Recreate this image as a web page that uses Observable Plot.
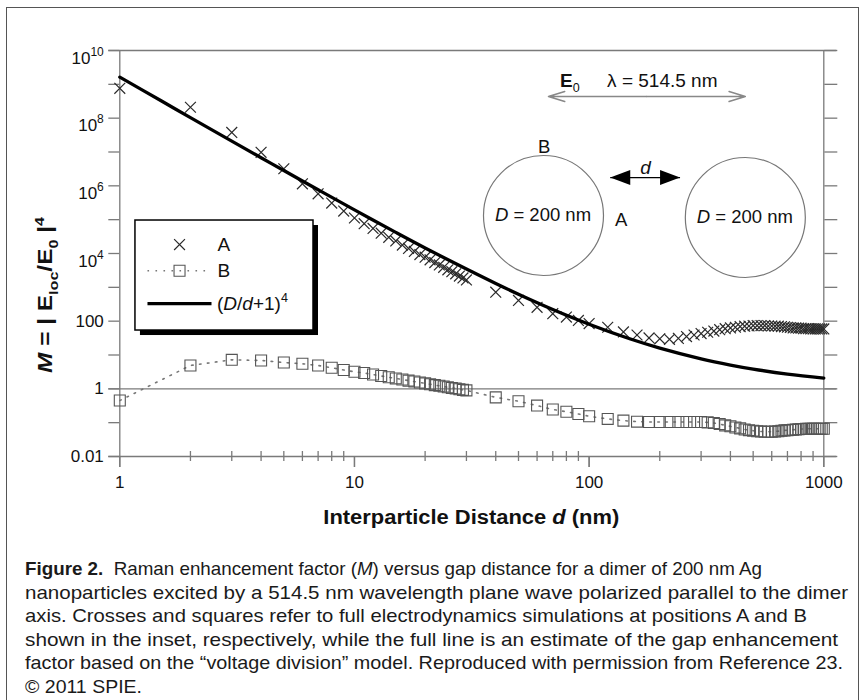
<!DOCTYPE html>
<html><head><meta charset="utf-8">
<script src="https://cdn.jsdelivr.net/npm/d3@7"></script>
<script src="https://cdn.jsdelivr.net/npm/@observablehq/plot@0.6"></script>
<style>
html,body{margin:0;padding:0;background:#fff;}
#wrap{position:relative;width:866px;height:700px;overflow:hidden;background:#fff;}
#frame{position:absolute;left:6px;top:7px;width:853px;height:700px;border:1.5px solid #555;box-sizing:border-box;pointer-events:none;}
#wrap svg text{white-space:pre;}
</style></head><body><div id="wrap"><div id="frame"></div></div>
<script>
const FONT = "'Liberation Sans', Arial, Helvetica, sans-serif";

// ---- data ----
const dPts = [1,2,3,4,5,6,7,8,9,10,11,12,13,14,15,16,17,18,19,20,21,22,23,24,25,26,27,28,29,30,
  40,50,60,70,80,90,100,120,140,160,180,200,220,240,260,280,300,320,340,360,380,400,420,440,460,480,500,
  520,540,560,580,600,620,640,660,680,700,720,740,760,780,800,820,840,860,880,900,920,940,960,980,1000];
const mA = [7.6e8,2.1e8,3.8e7,9.8e6,3.2e6,1.15e6,5.8e5,3.1e5,1.8e5,1.12e5,7.6e4,5.5e4,4.0e4,3.0e4,2.35e4,
  1.78e4,1.41e4,1.15e4,9.3e3,7.8e3,6.5e3,5.4e3,4.6e3,3.9e3,3.3e3,2.9e3,2.5e3,2.15e3,1.9e3,1.66e3,
  720,410,257,166,132,105,85,
  66,48,39,32,30,29,31,35,39,43,47,51,56,60,63,66,69,71,72,74,74,74,74,72,72,71,71,69,68,66,65,63,63,62,62,60,60,60,59,59,59,59,59,59,59];
const mB = [0.45,4.9,7.2,6.9,6.0,5.5,4.9,4.2,3.6,3.2,2.93,2.64,2.40,2.20,2.03,1.88,1.75,1.64,1.54,1.45,
  1.37,1.29,1.23,1.17,1.11,1.06,1.02,0.97,0.93,0.90,
  0.56,0.43,0.32,0.245,0.21,0.18,0.155,
  0.129,0.115,0.107,0.105,0.105,0.105,0.105,0.105,0.105,0.105,0.102,0.098,0.091,0.083,0.078,
  0.072,0.068,0.063,0.060,0.058,0.056,0.055,0.054,0.054,0.054,0.055,0.056,0.058,0.059,0.060,
  0.061,0.062,0.063,0.064,0.065,0.065,0.066,0.066,0.066,0.066,0.066,0.066,0.066,0.066,0.066];
const dLine = [1,1.5,2,3,4,5,7,10,15,20,30,40,50,70,100,150,200,300,400,500,700,1000];
const mLine = [1.63e9,3.26e8,1.04e8,2.10e7,6.77e6,2.83e6,7.65e5,1.94e5,4.22e4,1.46e4,3.46e3,1.30e3,625,221,81,29.6,16,7.72,5.06,3.84,2.73,2.07];

// axes
const xMajor = [1,10,100,1000];
const xMajorLabels = ["1","10","100","1000"];
const xMinor = [2,3,4,5,6,7,8,9,20,30,40,50,60,70,80,90,200,300,400,500,600,700,800,900];
const yDecades = [0.01,0.1,1,10,100,1e3,1e4,1e5,1e6,1e7,1e8,1e9,1e10];
const yLabelVals = [0.01,1,100,1e4,1e6,1e8,1e10];
const yTickLabels = ["0.01","1","100","10^4","10^6","10^8","10^10"];
const yFullLines = [0.01,1,1e10];

// inset annotations (data coordinates)
const circles = [{x: 63.9, y: 1.33e5}, {x: 463, y: 1.16e5}];
const circleText = ["D", " = 200 nm"];
const pointLabels = [{x: 64.4, y: 1.36e7, text: "B"}, {x: 137, y: 1.0e5, text: "A"}];
const eArrows = [{x1: 175, x2: 67.1, y: 4.37e8}, {x1: 175, x2: 463, y: 4.37e8}];
const eLabel = {x: 75.5, y: 1.3e9};
const lambdaLabel = {x: 205, y: 1.3e9, text: "λ = 514.5 nm"};
const gapArrow = {x1: 123, x2: 244, y: 1.76e6};
const gapLabel = {x: 174, y: 3.5e6, text: "d"};

// legend (data coordinates)
const legendBox = [{x1: 1.166, x2: 6.69, y1: 52.9, y2: 9.44e4}];
const legendA = {x: 1.797, y: 1.84e4, tx: 2.608, text: "A"};
const legendB = {x: 1.797, y: 3.1e3, x1: 1.312, x2: 2.459, tx: 2.608, text: "B"};
const legendL = {x1: 1.312, x2: 2.459, y: 332, tx: 2.608};

const captionLines = [
  [{t:"Figure 2.", b:true},{t:"  Raman enhancement factor ("},{t:"M", i:true},{t:") versus gap distance for a dimer of 200 nm Ag"}],
  [{t:"nanoparticles excited by a 514.5 nm wavelength plane wave polarized parallel to the dimer"}],
  [{t:"axis. Crosses and squares refer to full electrodynamics simulations at positions A and B"}],
  [{t:"shown in the inset, respectively, while the full line is an estimate of the gap enhancement"}],
  [{t:"factor based on the \u201Cvoltage division\u201D model. Reproduced with permission from Reference 23."}],
  [{t:"\u00A9 2011 SPIE."}]
];
const captionWidths = [737, 823, 782, 813, 818, 117];

// ---- build ----
const A = dPts.map((d, i) => ({d, m: mA[i]}));
const B = dPts.map((d, i) => ({d, m: mB[i]}));
const L = dLine.map((d, i) => ({d, m: mLine[i]}));
const minorTicks = xMinor.map(v => ({x: v, y: 0.01}));
const majorTicks = xMajor.map(v => ({x: v, y: 0.01}));

const headLeft = {draw(c){ c.moveTo(0,0); c.lineTo(20,-7.5); c.lineTo(20,7.5); c.closePath(); }};
const headRight = {draw(c){ c.moveTo(0,0); c.lineTo(-20,-7.5); c.lineTo(-20,7.5); c.closePath(); }};
const AX = "#7a7a7a";

const chart = Plot.plot({
  width: 866, height: 700,
  marginLeft: 119.3, marginRight: 42.7, marginTop: 50, marginBottom: 244,
  style: {background: "transparent", fontFamily: FONT, fontSize: "17px", color: "#111", overflow: "visible"},
  x: {type: "log", domain: [1, 1000]},
  y: {type: "log", domain: [0.01, 1e10]},
  marks: [
    Plot.ruleY(yFullLines, {stroke: AX, strokeWidth: 1.3, insetLeft: -11, insetRight: -13}),
    Plot.ruleX([1, 1000], {stroke: AX, strokeWidth: 1.3}),
    Plot.axisY({anchor: "left", ticks: yDecades, tickSize: 11, tickFormat: () => "", stroke: AX, strokeWidth: 1.3, label: null}),
    Plot.axisY({anchor: "right", ticks: yDecades, tickSize: 13, tickFormat: () => "", stroke: AX, strokeWidth: 1.3, label: null}),
    Plot.axisY({anchor: "left", ticks: yLabelVals, tickSize: 0, tickPadding: 16, label: null, fill: "#111",
      tickFormat: v => yTickLabels[yLabelVals.indexOf(v)]}),
    Plot.axisX({anchor: "bottom", ticks: xMajor, tickSize: 11, tickPadding: 8, stroke: AX, strokeWidth: 1.3, fill: "#111", label: null,
      tickFormat: v => xMajorLabels[xMajor.indexOf(v)]}),
    Plot.ruleX(minorTicks, {x: "x", y1: "y", y2: "y", insetTop: 5, insetBottom: 5, stroke: AX, strokeWidth: 1.3}),
    Plot.ruleX(majorTicks, {x: "x", y1: "y", y2: "y", insetTop: 0, insetBottom: -11, stroke: AX, strokeWidth: 1.3}),
    // data
    Plot.line(B, {x: "d", y: "m", stroke: "#777", strokeWidth: 1.6, strokeDasharray: "1.6 6.4"}),
    Plot.dot(B, {x: "d", y: "m", symbol: "square", r: 6.2, fill: "none", stroke: "#555", strokeWidth: 1.1}),
    Plot.dot(A, {x: "d", y: "m", symbol: "times", r: 5, stroke: "#2a2a2a", strokeWidth: 1.2}),
    Plot.line(L, {x: "d", y: "m", stroke: "#000", strokeWidth: 3.3, curve: "catmull-rom"}),
    // inset
    Plot.dot(circles, {x: "x", y: "y", r: 60, fill: "none", stroke: "#777", strokeWidth: 1.2}),
    Plot.text(pointLabels, {x: "x", y: "y", text: "text", fontSize: 18.5, fill: "#111"}),
    Plot.arrow(eArrows, {x1: "x1", x2: "x2", y1: "y", y2: "y", stroke: "#888", strokeWidth: 1.5, headLength: 17, headAngle: 34}),
    Plot.text([lambdaLabel], {x: "x", y: "y", text: "text", fontSize: 19, fill: "#111"}),
    Plot.link([gapArrow], {x1: "x1", x2: "x2", y1: "y", y2: "y", stroke: "#000", strokeWidth: 1.2}),
    Plot.dot([gapArrow], {x: "x1", y: "y", symbol: headLeft, r: 5, fill: "#000", stroke: "none"}),
    Plot.dot([gapArrow], {x: "x2", y: "y", symbol: headRight, r: 5, fill: "#000", stroke: "none"}),
    Plot.text([gapLabel], {x: "x", y: "y", text: "text", fontSize: 19, fontStyle: "italic", fill: "#111"}),
    // legend
    Plot.rect(legendBox, {x1: "x1", x2: "x2", y1: "y1", y2: "y2", fill: "#000", dx: 5, dy: 5}),
    Plot.rect(legendBox, {x1: "x1", x2: "x2", y1: "y1", y2: "y2", fill: "#fff", stroke: "#000", strokeWidth: 1.5}),
    Plot.dot([legendA], {x: "x", y: "y", symbol: "times", r: 5, stroke: "#2a2a2a", strokeWidth: 1.2}),
    Plot.text([legendA, legendB], {x: "tx", y: "y", text: "text", textAnchor: "start", fontSize: 19, fill: "#111"}),
    Plot.link([legendB], {x1: "x1", x2: "x2", y1: "y", y2: "y", stroke: "#777", strokeWidth: 1.6, strokeDasharray: "1.6 6.4"}),
    Plot.dot([legendB], {x: "x", y: "y", symbol: "square", r: 6.2, fill: "none", stroke: "#555", strokeWidth: 1.1}),
    Plot.link([legendL], {x1: "x1", x2: "x2", y1: "y", y2: "y", stroke: "#000", strokeWidth: 3.3})
  ]
});

document.getElementById("wrap").insertBefore(chart, document.getElementById("frame"));
chart.style.position = "absolute"; chart.style.left = "0"; chart.style.top = "0";

const svg = d3.select(chart);
const sx = chart.scale("x"), sy = chart.scale("y");

function rich(parent, x, y, parts, o = {}) {
  const size = o.size || 18;
  const base = o.center === false ? 0 : size * 0.35;
  const t = parent.append("text")
    .attr("font-size", size).attr("font-family", o.font || FONT)
    .attr("fill", o.fill || "#111").attr("text-anchor", o.anchor || "start")
    .style("white-space", "pre");
  if (o.weight) t.attr("font-weight", o.weight);
  if (o.rotate) t.attr("transform", `translate(${x},${y}) rotate(${o.rotate})`).attr("x", 0).attr("y", base);
  else t.attr("x", x).attr("y", y + base);
  if (o.length) t.attr("textLength", o.length).attr("lengthAdjust", o.adjust || "spacingAndGlyphs");
  let shift = 0;
  for (const p of parts) {
    const ts = t.append("tspan").text(p.t);
    const small = p.sub || p.sup;
    const target = p.sub ? size * 0.28 : p.sup ? -size * 0.42 : 0;
    if (target !== shift) ts.attr("dy", target - shift);
    shift = target;
    if (small) ts.attr("font-size", size * 0.66);
    if (p.i) ts.attr("font-style", "italic");
    if (p.b) ts.attr("font-weight", "bold");
    if (p.dx) ts.attr("dx", p.dx);
  }
  return t;
}

// superscript y tick labels
svg.selectAll('g[aria-label="y-axis tick label"] text').each(function() {
  const s = this.textContent;
  if (s.includes("^")) {
    const [b, e] = s.split("^");
    const el = d3.select(this);
    el.text(null).attr("dy", "0.45em");
    el.append("tspan").text(b);
    el.append("tspan").text(e).attr("font-size", 12).attr("dy", -8);
  }
});

const g = svg.append("g");
// circle labels
for (const c of circles) {
  rich(g, sx.apply(c.x), sy.apply(c.y), [{t: circleText[0], i: true}, {t: circleText[1]}], {size: 18.5, anchor: "middle"});
}
// E0
rich(g, sx.apply(eLabel.x), sy.apply(eLabel.y), [{t: "E", b: true}, {t: "0", sub: true}], {size: 19});
// legend formula
rich(g, sx.apply(legendL.tx), sy.apply(legendL.y), [{t: "("}, {t: "D", i: true}, {t: "/"}, {t: "d", i: true}, {t: "+1)"}, {t: "4", sup: true}], {size: 19});
// axis labels
const frameCx = (sx.apply(1) + sx.apply(1000)) / 2;
rich(g, frameCx, 517, [{t: "Interparticle Distance "}, {t: "d", i: true}, {t: " (nm)"}], {size: 20, weight: "bold", anchor: "middle", length: 296});
rich(g, 45, 295, [{t: "M", i: true}, {t: " = | "}, {t: "E"}, {t: "loc", sub: true}, {t: "/"}, {t: "E"}, {t: "0", sub: true}, {t: " |"}, {t: "4", sup: true}],
  {size: 20, weight: "bold", anchor: "middle", rotate: -90, length: 156});
// caption
captionLines.forEach((parts, i) => {
  rich(g, 25, 569 + 23.5 * i, parts, {size: 18.5, fill: "#1a1a1a", length: captionWidths[i], adjust: "spacingAndGlyphs"});
});
</script></body></html>
